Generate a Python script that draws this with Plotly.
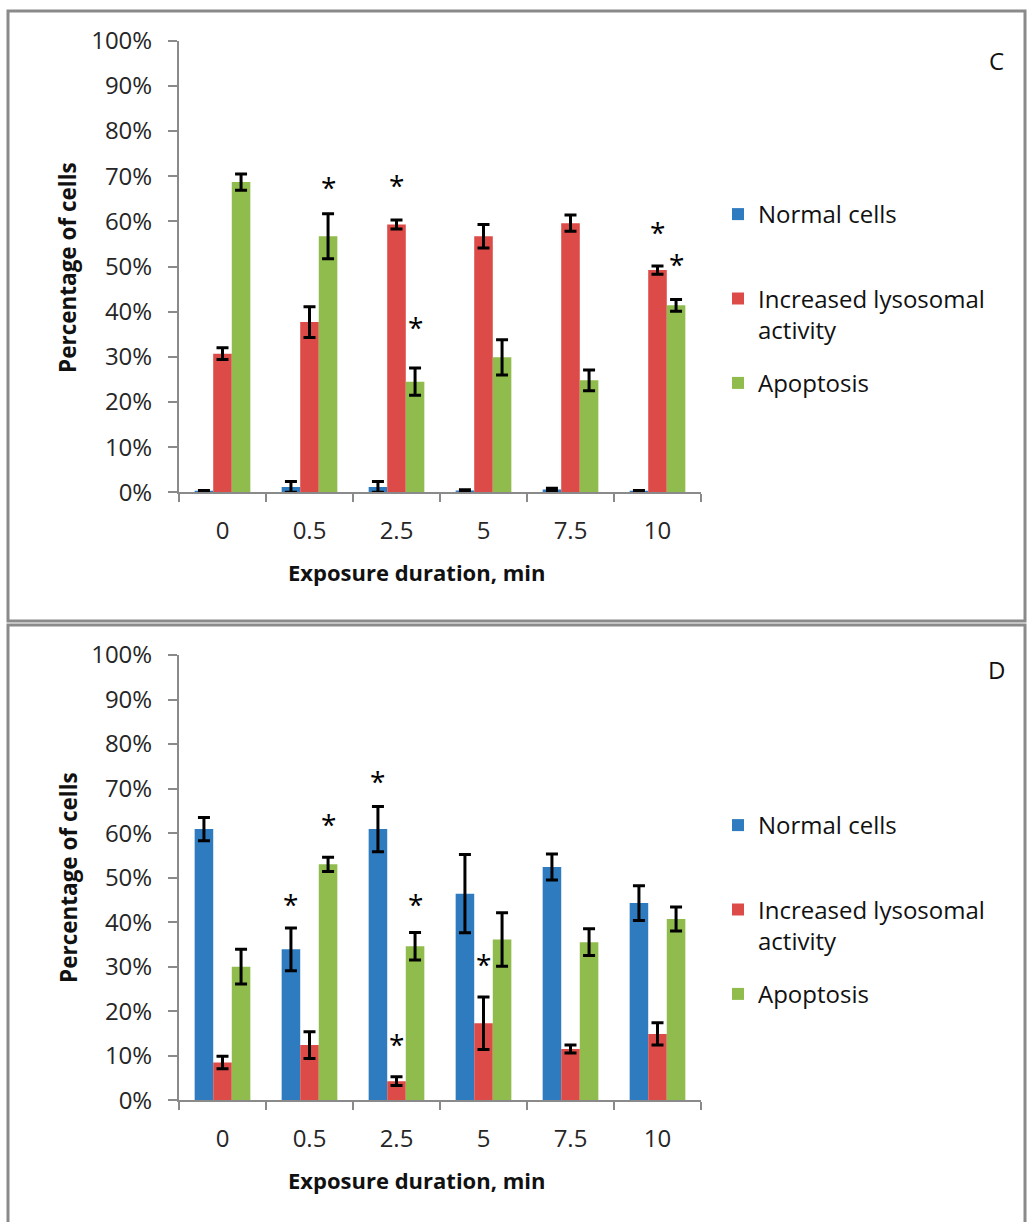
import plotly.graph_objects as go

# ---------------- data ----------------
categories = ["0", "0.5", "2.5", "5", "7.5", "10"]
series_names = ["Normal cells", "Increased lysosomal<br>activity", "Apoptosis"]

# Panel C
c_normal = [0.3, 1.2, 1.2, 0.4, 0.6, 0.3]
c_normal_err = [0.1, 1.2, 1.2, 0.15, 0.3, 0.1]
c_lyso = [30.7, 37.7, 59.3, 56.7, 59.6, 49.2]
c_lyso_err = [1.3, 3.4, 1.0, 2.6, 1.8, 0.9]
c_apop = [68.7, 56.7, 24.5, 29.9, 24.8, 41.4]
c_apop_err = [1.8, 5.0, 3.0, 3.9, 2.3, 1.3]
# asterisks: category index, series index (0 normal,1 lyso,2 apop), y level (%)
c_star_cat = [1, 2, 2, 5, 5]
c_star_ser = [2, 1, 2, 1, 2]
c_star_y = [69.0, 69.4, 38.0, 59.0, 51.9]

# Panel D
d_normal = [60.9, 33.9, 60.9, 46.4, 52.4, 44.3]
d_normal_err = [2.6, 4.8, 5.1, 8.8, 2.9, 3.9]
d_lyso = [8.5, 12.4, 4.3, 17.3, 11.5, 14.9]
d_lyso_err = [1.4, 3.0, 1.0, 5.9, 0.9, 2.5]
d_apop = [30.0, 53.0, 34.6, 36.1, 35.5, 40.7]
d_apop_err = [3.9, 1.6, 3.1, 6.0, 3.0, 2.7]
d_star_cat = [1, 1, 2, 2, 2, 3]
d_star_ser = [0, 2, 0, 1, 2, 1]
d_star_y = [45.4, 63.5, 73.0, 14.0, 45.4, 31.9]

y_ticks = [0, 10, 20, 30, 40, 50, 60, 70, 80, 90, 100]

# ---------------- style ----------------
W, H = 1031, 1222
colors = ["#2f7bbf", "#dc4b47", "#8fbc4c"]
axis_gray = "#8a8a8a"
FONT = "Open Sans"
BARGAP = 0.36
bar_w = (1 - BARGAP) / 3


def px_x(p):
    return p / W


def px_y(p):
    return 1 - p / H


x_dom = [px_x(179), px_x(701)]
yC_dom = [px_y(492.3), px_y(40.7)]
yD_dom = [px_y(1100.3), px_y(655)]

fig = go.Figure()
xs = list(range(len(categories)))

panels = [
    ("x", "y", "legend", [c_normal, c_lyso, c_apop], [c_normal_err, c_lyso_err, c_apop_err],
     c_star_cat, c_star_ser, c_star_y, "C"),
    ("x2", "y2", "legend2", [d_normal, d_lyso, d_apop], [d_normal_err, d_lyso_err, d_apop_err],
     d_star_cat, d_star_ser, d_star_y, "D"),
]

for xa, ya, leg, vals, errs, s_cat, s_ser, s_y, tag in panels:
    for j in range(3):
        name = series_names[j] + ("<br> " if j == 0 else "")
        fig.add_trace(go.Bar(
            x=xs, y=vals[j], name=name,
            marker=dict(color=colors[j], line=dict(width=0)),
            error_y=dict(type="data", array=errs[j], color="black", thickness=3, width=6),
            xaxis=xa, yaxis=ya, legend=leg, legendgroup=tag + str(j),
        ))
    for c, s, yv in zip(s_cat, s_ser, s_y):
        fig.add_annotation(
            x=c + (s - 1) * bar_w, y=yv, xref=xa, yref=ya, text="*", showarrow=False,
            xanchor="center", yanchor="middle", yshift=-6,
            font=dict(family=FONT, size=28, color="black"),
        )

xaxis_common = dict(
    range=[-0.5, len(categories) - 0.5], tickmode="array", tickvals=xs, ticktext=categories,
    ticks="", showline=True, linecolor=axis_gray, linewidth=2, showgrid=False, zeroline=False,
    tickfont=dict(family=FONT, size=24, color="#262626"), ticklabelstandoff=16,
    minor=dict(ticks="outside", tick0=-0.5, dtick=1, ticklen=8, tickcolor=axis_gray,
               tickwidth=2, showgrid=False),
    domain=x_dom, fixedrange=True, automargin=False,
)
yaxis_common = dict(
    range=[0, 100], tickmode="array", tickvals=y_ticks, ticktext=[f"{v}%" for v in y_ticks],
    ticks="outside", ticklen=9, tickcolor=axis_gray, tickwidth=2,
    showline=True, linecolor=axis_gray, linewidth=2, showgrid=False, zeroline=False,
    tickfont=dict(family=FONT, size=24, color="#262626"), ticklabelstandoff=11,
    fixedrange=True, automargin=False,
)

legend_common = dict(
    font=dict(family=FONT, size=24, color="#111"), bgcolor="rgba(0,0,0,0)",
    traceorder="grouped", tracegroupgap=19, valign="top", itemclick=False,
    xanchor="left", yanchor="top",
)

fig.update_layout(
    width=W, height=H, margin=dict(l=0, r=0, t=0, b=0, autoexpand=False),
    paper_bgcolor="white", plot_bgcolor="white",
    barmode="group", bargap=BARGAP, bargroupgap=0,
    xaxis=dict(**xaxis_common, anchor="y"),
    yaxis=dict(**yaxis_common, domain=yC_dom, anchor="x"),
    xaxis2=dict(**xaxis_common, anchor="y2"),
    yaxis2=dict(**yaxis_common, domain=yD_dom, anchor="x2"),
    legend=dict(**legend_common, x=px_x(718), y=px_y(192)),
    legend2=dict(**legend_common, x=px_x(718), y=px_y(803)),
    showlegend=True,
)

# panel borders
for y0, y1 in [(11, 621), (625, 1226)]:
    fig.add_shape(type="rect", xref="paper", yref="paper",
                  x0=px_x(8), x1=px_x(1025), y0=px_y(y1), y1=px_y(y0),
                  line=dict(color=axis_gray, width=3), fillcolor="rgba(0,0,0,0)", layer="below")

# titles and panel letters
for yt, xt_y, letter, ly in [(268, 572, "C", 60), (878, 1180, "D", 669)]:
    fig.add_annotation(text="<b>Percentage of cells</b>", xref="paper", yref="paper",
                       x=px_x(68), y=px_y(yt), textangle=-90, showarrow=False,
                       xanchor="center", yanchor="middle",
                       font=dict(family=FONT, size=22.5, color="#111"))
    fig.add_annotation(text="<b>Exposure duration, min</b>", xref="paper", yref="paper",
                       x=px_x(416), y=px_y(xt_y), showarrow=False,
                       xanchor="center", yanchor="middle",
                       font=dict(family=FONT, size=22, color="#111"))
    fig.add_annotation(text=letter, xref="paper", yref="paper",
                       x=px_x(996), y=px_y(ly), showarrow=False,
                       xanchor="center", yanchor="middle",
                       font=dict(family=FONT, size=24, color="#111"))

fig.write_html("out.html")
